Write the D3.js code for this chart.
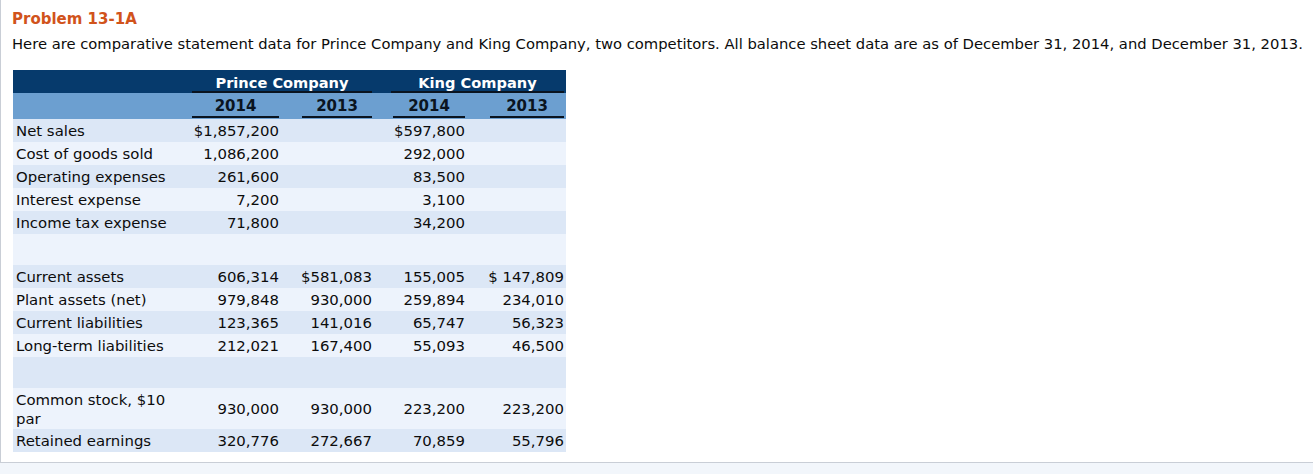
<!DOCTYPE html>
<html>
<head>
<meta charset="utf-8">
<script src="https://cdn.jsdelivr.net/npm/d3@7"></script>
<style>
  body { margin: 0; background: #fff; }
  svg { display: block; font-family: 'DejaVu Sans', Verdana, sans-serif; }
</style>
</head>
<body>
<div id="table"></div>
<script>
// ---- data ----
const companies = ['Prince Company', 'King Company']
const years = ['2014', '2013', '2014', '2013']

const incomeItems = ['Net sales', 'Cost of goods sold', 'Operating expenses', 'Interest expense', 'Income tax expense']
const princeIncome2014 = [1857200, 1086200, 261600, 7200, 71800]
const kingIncome2014 = [597800, 292000, 83500, 3100, 34200]

const balanceItems = ['Current assets', 'Plant assets (net)', 'Current liabilities', 'Long-term liabilities']
const princeBalance2014 = [606314, 979848, 123365, 212021]
const princeBalance2013 = [581083, 930000, 141016, 167400]
const kingBalance2014 = [155005, 259894, 65747, 55093]
const kingBalance2013 = [147809, 234010, 56323, 46500]

const equityItems = ['Common stock, $10 par', 'Retained earnings']
const princeEquity2014 = [930000, 320776]
const princeEquity2013 = [930000, 272667]
const kingEquity2014 = [223200, 70859]
const kingEquity2013 = [223200, 55796]

// cells that carry a dollar sign: [row label, column index, prefix]
const dollarCells = [
  ['Net sales', 0, '$'],
  ['Net sales', 2, '$'],
  ['Current assets', 1, '$'],
  ['Current assets', 3, '$ ']
]

// ---- build rows ----
const rows = []
incomeItems.forEach((label, i) => {
  rows.push({ type: 'data', label, values: [princeIncome2014[i], null, kingIncome2014[i], null] })
})
rows.push({ type: 'blank' })
balanceItems.forEach((label, i) => {
  rows.push({ type: 'data', label, values: [princeBalance2014[i], princeBalance2013[i], kingBalance2014[i], kingBalance2013[i]] })
})
rows.push({ type: 'blank' })
equityItems.forEach((label, i) => {
  rows.push({ type: label.length > 18 ? 'tall' : 'data', label, values: [princeEquity2014[i], princeEquity2013[i], kingEquity2014[i], kingEquity2013[i]] })
})

const rowHeight = { data: 23, blank: 31, tall: 41 }
let acc = 0
rows.forEach(r => {
  r.y = acc
  r.h = rowHeight[r.type]
  acc += r.h
})

const fmt = d3.format(',')
function cellText(label, col, v) {
  if (v == null) return ''
  const d = dollarCells.find(c => c[0] === label && c[1] === col)
  return (d ? d[2] : '') + fmt(v)
}

// ---- layout ----
const W = 1313
const H = 474
const tableLeft = 13
const tableRight = 566
const head1Top = 70
const head1H = 23
const head2H = 26
const bodyTop = head1Top + head1H + head2H
const fontSize = 14.9
const ink = '#0c0c0c'

// column right edges and widths of their underlines
const colRight = [279, 372, 465, 564]
const colWidth = [87, 70, 72, 74]

const svg = d3
  .select('#table')
  .append('svg')
  .attr('width', W)
  .attr('height', H)

// page frame
svg.append('rect').attr('x', 0).attr('y', 463).attr('width', W).attr('height', H - 463).attr('fill', '#f2f6fb')
svg.append('line').attr('x1', 0.5).attr('x2', 0.5).attr('y1', 0).attr('y2', 463).attr('stroke', '#c9ced6')
svg.append('line').attr('x1', 0).attr('x2', W).attr('y1', 462.5).attr('y2', 462.5).attr('stroke', '#c9ced6')

// title and intro
svg.append('text')
  .attr('x', 12).attr('y', 24)
  .attr('font-size', 15).attr('font-weight', 'bold')
  .attr('fill', '#d1531b')
  .text('Problem 13-1A')

svg.append('text')
  .attr('x', 12).attr('y', 49)
  .attr('font-size', 14.75)
  .attr('fill', ink)
  .text('Here are comparative statement data for Prince Company and King Company, two competitors. All balance sheet data are as of December 31, 2014, and December 31, 2013.')

// header rows
svg.append('rect')
  .attr('x', tableLeft).attr('y', head1Top)
  .attr('width', tableRight - tableLeft).attr('height', head1H)
  .attr('fill', '#063a6c')
svg.append('rect')
  .attr('x', tableLeft).attr('y', head1Top + head1H)
  .attr('width', tableRight - tableLeft).attr('height', head2H)
  .attr('fill', '#6c9fd0')

const groups = companies.map((name, i) => ({
  name,
  x0: colRight[i * 2] - colWidth[i * 2],
  x1: colRight[i * 2 + 1]
}))
groups[1].x0 = colRight[2] - colWidth[2] - 2

svg.selectAll('.company')
  .data(groups)
  .enter()
  .append('text')
  .attr('class', 'company')
  .attr('x', d => (d.x0 + d.x1) / 2)
  .attr('y', head1Top + 18)
  .attr('text-anchor', 'middle')
  .attr('font-size', 14.6).attr('font-weight', 'bold')
  .attr('fill', '#fff')
  .text(d => d.name)

svg.selectAll('.company-line')
  .data(groups)
  .enter()
  .append('rect')
  .attr('class', 'company-line')
  .attr('x', d => d.x0)
  .attr('y', head1Top + head1H - 2)
  .attr('width', d => d.x1 - d.x0)
  .attr('height', 2)
  .attr('fill', '#0a1420')

svg.selectAll('.year')
  .data(years)
  .enter()
  .append('text')
  .attr('class', 'year')
  .attr('x', (d, i) => colRight[i] - colWidth[i] / 2)
  .attr('y', head1Top + head1H + 18)
  .attr('text-anchor', 'middle')
  .attr('font-size', 15).attr('font-weight', 'bold')
  .attr('fill', '#0a1420')
  .text(d => d)

svg.selectAll('.year-line')
  .data(years)
  .enter()
  .append('rect')
  .attr('class', 'year-line')
  .attr('x', (d, i) => colRight[i] - colWidth[i])
  .attr('y', head1Top + head1H + head2H - 3)
  .attr('width', (d, i) => colWidth[i])
  .attr('height', 2)
  .attr('fill', '#0a1420')

// body rows
const body = svg.append('g').attr('transform', 'translate(0,' + bodyTop + ')')

const row = body.selectAll('.row')
  .data(rows)
  .enter()
  .append('g')
  .attr('class', 'row')
  .attr('transform', d => 'translate(0,' + d.y + ')')

row.append('rect')
  .attr('x', tableLeft)
  .attr('width', tableRight - tableLeft)
  .attr('height', d => d.h)
  .attr('fill', (d, i) => (i % 2 === 0 ? '#dce7f6' : '#edf3fc'))

row.filter(d => d.type !== 'blank')
  .append('text')
  .attr('x', 16)
  .attr('font-size', fontSize)
  .attr('fill', ink)
  .each(function(d) {
    const t = d3.select(this)
    if (d.type === 'tall') {
      t.append('tspan').attr('x', 16).attr('y', 17).text('Common stock, $10')
      t.append('tspan').attr('x', 16).attr('y', 36).text('par')
    } else {
      t.attr('y', 16.5).text(d.label)
    }
  })

row.filter(d => d.type !== 'blank')
  .selectAll('.val')
  .data(d => d.values.map((v, i) => ({ label: d.label, col: i, v, h: d.h })))
  .enter()
  .append('text')
  .attr('class', 'val')
  .attr('x', d => colRight[d.col])
  .attr('y', d => d.h / 2 + 5.5)
  .attr('text-anchor', 'end')
  .attr('font-size', fontSize)
  .attr('fill', ink)
  .text(d => cellText(d.label, d.col, d.v))
</script>
</body>
</html>
